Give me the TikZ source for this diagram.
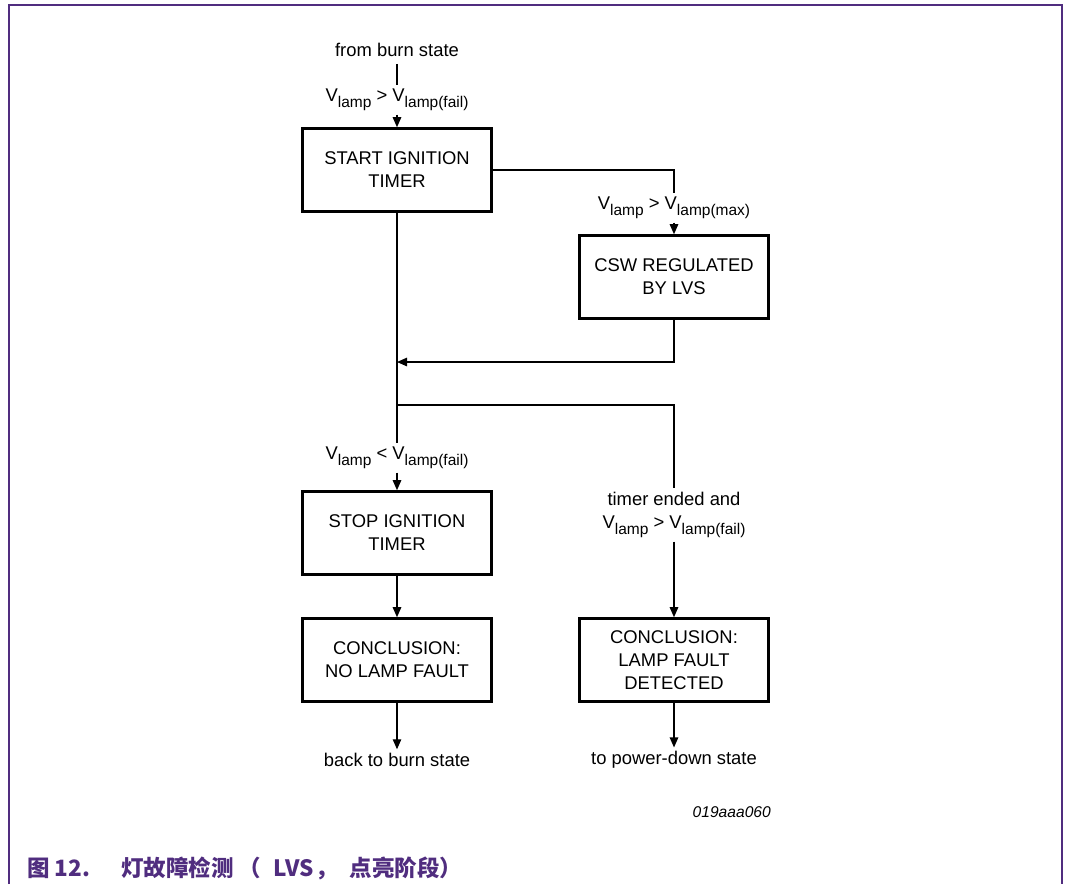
\documentclass[tikz,border=0pt]{standalone}
\usepackage{fontspec}
\setmainfont{Liberation Sans}
\newfontfamily\cjk{Noto Sans CJK SC}
\usetikzlibrary{arrows.meta}
\definecolor{nxp}{RGB}{80,45,127}
\newcommand{\lsub}[1]{\raisebox{-0.3em}{\fontsize{15.5}{15.5}\selectfont #1}}
\newcommand{\Vl}{V\lsub{lamp}}
\begin{document}
\begin{tikzpicture}[x=1pt,y=-1pt,
  box/.style={draw,line width=2.6pt,minimum width=189pt,minimum height=83pt,inner sep=2pt,align=center,font=\fontsize{18.4}{23}\selectfont},
  lbl/.style={font=\fontsize{18.4}{23}\selectfont,inner sep=0pt,outer sep=4pt,align=center},
  conn/.style={line width=1.2pt},
  arr/.style={conn,-{Triangle[length=10pt,width=8.5pt]}},
  captext/.style={anchor=west,inner sep=0pt,text=nxp,font=\cjk\bfseries\fontsize{22.5}{26}\selectfont}]
\useasboundingbox (0,0) rectangle (1066,884);
\draw[nxp,line width=1.5pt] (9,884) -- (9,5) -- (1062,5) -- (1062,884);

% boxes
\node[box] (start)  at (397,170) {START IGNITION\\TIMER};
\node[box] (csw)    at (674,277) {CSW REGULATED\\BY LVS};
\node[box] (stop)   at (397,533) {STOP IGNITION\\TIMER};
\node[box] (nolamp) at (397,660) {CONCLUSION:\\NO LAMP FAULT};
\node[box] (lamp)   at (674,660) {CONCLUSION:\\LAMP FAULT\\DETECTED};

% labels
\node[lbl,outer sep=7pt] (fb) at (397,50) {from burn state};
\node[lbl] (l1) at (397,100) {\Vl{} > V\lsub{lamp(fail)}};
\node[lbl] (l2) at (674,208) {\Vl{} > V\lsub{lamp(max)}};
\node[lbl] (l3) at (397,458) {\Vl{} < V\lsub{lamp(fail)}};
\node[lbl] (l4) at (674,515) {timer ended and\\\Vl{} > V\lsub{lamp(fail)}};
\node[lbl] (back) at (397,760) {back to burn state};
\node[lbl] (pd)   at (674,760) {to power-down state};
\node[anchor=east,inner sep=0pt,font=\fontsize{15.6}{18}\selectfont\itshape] (code) at (771,812) {019aaa060};

\coordinate (j1) at (397,362);
\coordinate (j2) at (397,405);

% connectors
\draw[conn] (fb) -- (l1);
\draw[arr] (l1) -- (start);
\draw[conn] (start.east) -| (l2);
\draw[arr] (l2) -- (csw);
\draw[conn] (start) -- (l3);
\draw[arr] (csw.south) |- (j1);
\draw[conn] (j2) -| (l4);
\draw[arr] (l3) -- (stop);
\draw[arr] (l4) -- (lamp);
\draw[arr] (stop) -- (nolamp);
\draw[arr] (nolamp) -- (back);
\draw[arr] (lamp) -- (pd);

% caption
\node[captext] (cap1) at (27,868) {图 12.};
\node[captext] (cap2) at (121,868) {灯故障检测 （\hspace{0.55em}LVS\hspace{0.1em}，\hspace{0.5em}点亮阶段）};
\end{tikzpicture}
\end{document}
